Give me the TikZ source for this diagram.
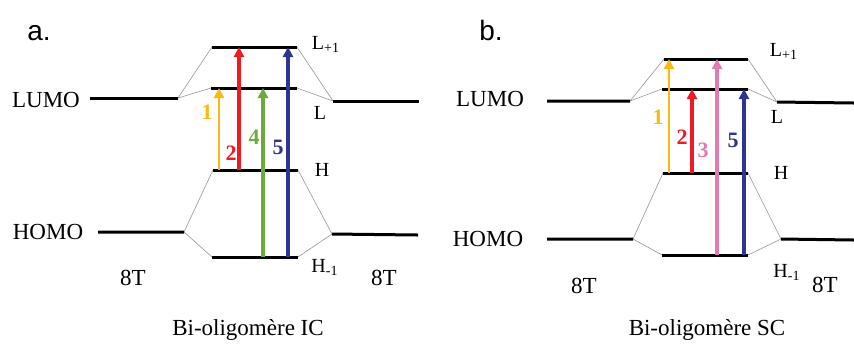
\documentclass[tikz,border=0pt]{standalone}
\usepackage{fontspec}
\setmainfont{Liberation Serif}
\newfontfamily\panelfont{Liberation Sans}
\usepackage{tikz}
\usetikzlibrary{arrows.meta}
\definecolor{transyellow}{RGB}{253,185,19}
\definecolor{transred}{RGB}{237,28,36}
\definecolor{transgreen}{RGB}{108,170,62}
\definecolor{transblue}{RGB}{46,52,146}
\definecolor{transpink}{RGB}{228,122,180}
\definecolor{corrgray}{RGB}{150,150,150}

\begin{document}
\begin{tikzpicture}[x=0.5pt, y=-0.5pt,
  level/.style={line width=1.5pt},
  corr/.style={corrgray, line width=0.3pt},
  trans/.style={-{Triangle[length=5pt, width=5pt]}},
  lab/.style={font=\fontsize{11.5}{13}\selectfont},
  sublab/.style={font=\fontsize{10}{11}\selectfont},
  num/.style={font=\fontsize{11}{12}\selectfont\bfseries}]
  \useasboundingbox (0,0) rectangle (854,345);

  % 8T levels (left and right)
  \coordinate (aLUMO1) at (90,98);   \coordinate (aLUMO2) at (178,98);
  \coordinate (aLUMO3) at (333,101); \coordinate (aLUMO4) at (419,101);
  \coordinate (aHOMO1) at (98,232);  \coordinate (aHOMO2) at (184,232);
  \coordinate (aHOMO3) at (332,234); \coordinate (aHOMO4) at (418,235);
  \coordinate (bLUMO1) at (547,101); \coordinate (bLUMO2) at (630,101);
  \coordinate (bLUMO3) at (777,102); \coordinate (bLUMO4) at (854,103);
  \coordinate (bHOMO1) at (547,239); \coordinate (bHOMO2) at (633,239);
  \coordinate (bHOMO3) at (781,239); \coordinate (bHOMO4) at (854,240);

  % Bi-oligomer levels
  \coordinate (aLp1) at (212,47);  \coordinate (aLp2) at (297,47);
  \coordinate (aL1)  at (211,88);  \coordinate (aL2)  at (297,88);
  \coordinate (aH1)  at (213,170); \coordinate (aH2)  at (298,170);
  \coordinate (aHm1) at (212,257); \coordinate (aHm2) at (298,257);
  \coordinate (bLp1) at (664,59);  \coordinate (bLp2) at (748,59);
  \coordinate (bL1)  at (662,89);  \coordinate (bL2)  at (748,89);
  \coordinate (bH1)  at (663,173); \coordinate (bH2)  at (748,173);
  \coordinate (bHm1) at (662,255); \coordinate (bHm2) at (748,255);

  % Correlation lines
  \foreach \p in {a,b} {
    \draw[corr] (\p Lp1) -- (\p LUMO2) -- (\p L1);
    \draw[corr] (\p Lp2) -- (\p LUMO3) -- (\p L2);
    \draw[corr] (\p H1) -- (\p HOMO2) -- (\p Hm1);
    \draw[corr] (\p H2) -- (\p HOMO3) -- (\p Hm2);
  }

  % Levels
  \foreach \lv in {aLUMO, aHOMO, bLUMO, bHOMO}
    \draw[level] (\lv1) -- (\lv2) (\lv3) -- (\lv4);
  \foreach \lv in {aLp, aL, aH, aHm, bLp, bL, bH, bHm}
    \draw[level] (\lv1) -- (\lv2);

  % Transitions
  \foreach \p/\x/\from/\to/\col/\w/\n/\nx/\ny in {
      a/219/H/L/transyellow/1.2/1/207/112, a/239/H/Lp/transred/1.7/2/231/153,
      a/263/Hm/L/transgreen/1.7/4/254/137, a/288/Hm/Lp/transblue/1.7/5/278/147,
      b/669/H/Lp/transyellow/1.2/1/658/117, b/692/H/L/transred/1.7/2/682/137,
      b/717/Hm/Lp/transpink/1.7/3/703/150, b/744/Hm/L/transblue/1.7/5/733/140} {
    \draw[trans, \col, line width=\w pt] (\x,0 |- \p\from1) -- (\x,0 |- \p\to1);
    \node[num, text=\col] (\p n\n) at (\nx,\ny) {\n};
  }

  % Labels
  \node[lab] (aLUMO) at (46,100) {LUMO};
  \node[lab] (aHOMO) at (48,232) {HOMO};
  \node[lab] (bLUMO) at (490,99) {LUMO};
  \node[lab] (bHOMO) at (488,239) {HOMO};
  \node[lab] (a8Tl) at (133,278) {8T};
  \node[lab] (a8Tr) at (384,278) {8T};
  \node[lab] (b8Tl) at (584,286) {8T};
  \node[lab] (b8Tr) at (825,285) {8T};
  \node[sublab] (aLpl) at (326,44) {L\textsubscript{+1}};
  \node[sublab] (aLl)  at (320,113) {L};
  \node[sublab] (aHl)  at (322,170) {H};
  \node[sublab] (aHml) at (325,267) {H\textsubscript{-1}};
  \node[sublab] (bLpl) at (784,51) {L\textsubscript{+1}};
  \node[sublab] (bLl)  at (777,117) {L};
  \node[sublab] (bHl)  at (781,173) {H};
  \node[sublab] (bHml) at (787,272) {H\textsubscript{-1}};

  % Panel titles
  \node[font=\panelfont\fontsize{14}{16}\selectfont] (atitle) at (39,33) {a.};
  \node[font=\panelfont\fontsize{14}{16}\selectfont] (btitle) at (491,30) {b.};
  \node[lab] (acap) at (248,330) {Bi-oligomère IC};
  \node[lab] (bcap) at (707,330) {Bi-oligomère SC};
\end{tikzpicture}
\end{document}
